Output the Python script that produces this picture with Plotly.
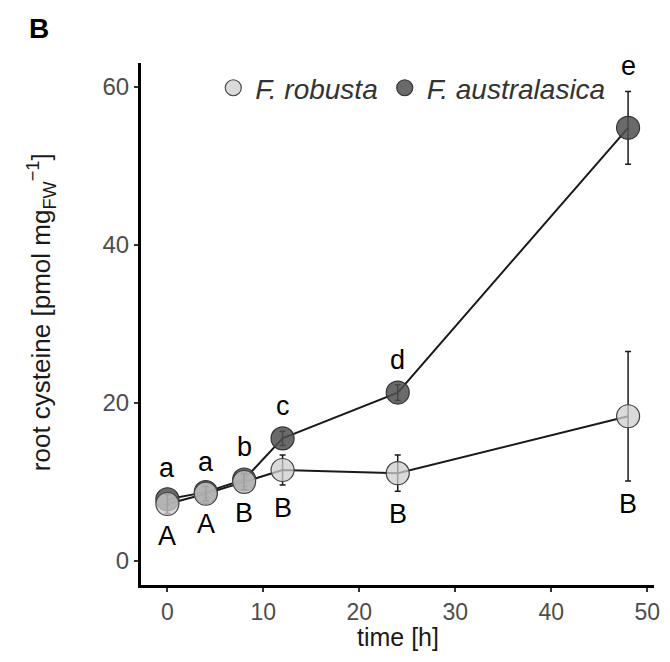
import plotly.graph_objects as go

# Sampling times (h)
time_h = [0, 4, 8, 12, 24, 48]

# Root cysteine, mean and SD (pmol mg-1 FW)
robusta_mean = [7.2, 8.5, 10.0, 11.5, 11.1, 18.3]
robusta_sd = [1.2, 0.9, 1.0, 1.9, 2.3, 8.2]
austral_mean = [7.8, 8.7, 10.3, 15.5, 21.3, 54.8]
austral_sd = [0.8, 0.7, 0.9, 0.9, 1.0, 4.6]

# Significance letters
robusta_letters = ["A", "A", "B", "B", "B", "B"]
austral_letters = ["a", "a", "b", "c", "d", "e"]

x_ticks = [0, 10, 20, 30, 40, 50]
y_ticks = [0, 20, 40, 60]

FONT = "Liberation Sans, Arial, sans-serif"

fig = go.Figure()

# connecting lines
for mean in (austral_mean, robusta_mean):
    fig.add_trace(go.Scatter(
        x=time_h, y=mean, mode="lines",
        line=dict(color="#1a1a1a", width=2),
        showlegend=False, hoverinfo="skip",
    ))

# points with error bars
fig.add_trace(go.Scatter(
    x=time_h, y=austral_mean, mode="markers",
    name="<i>F. australasica</i>",
    marker=dict(size=23, color="rgba(80,80,80,0.85)",
                line=dict(color="#333333", width=1.2)),
    error_y=dict(type="data", array=austral_sd, visible=True,
                 color="#1a1a1a", thickness=1.5, width=3),
))
fig.add_trace(go.Scatter(
    x=time_h, y=robusta_mean, mode="markers",
    name="<i>F. robusta</i>",
    marker=dict(size=23, color="rgba(205,205,205,0.75)",
                line=dict(color="#444444", width=1.2)),
    error_y=dict(type="data", array=robusta_sd, visible=True,
                 color="#1a1a1a", thickness=1.5, width=3),
))

LETTER_FONT = dict(family=FONT, size=27, color="black")
annotations = []
for t, m, s, lab in zip(time_h, austral_mean, austral_sd, austral_letters):
    annotations.append(dict(x=t, y=m + s, text=lab, showarrow=False,
                            yshift=25, yanchor="middle", font=LETTER_FONT))
for t, m, s, lab in zip(time_h, robusta_mean, robusta_sd, robusta_letters):
    annotations.append(dict(x=t, y=m - s, text=lab, showarrow=False,
                            yshift=-23, yanchor="middle", font=LETTER_FONT))

# panel tag
annotations.append(dict(
    xref="x domain", yref="y domain",
    x=-(141 - 38) / 519, y=1 + (63 - 28) / 522,
    xanchor="center", yanchor="middle", showarrow=False,
    text="<b>B</b>", font=dict(family=FONT, size=28, color="black"),
))

# axis titles
annotations.append(dict(
    xref="x domain", yref="y domain",
    x=0.5, y=-(637 - 585) / 522, xanchor="center", yanchor="middle",
    showarrow=False, text="time [h]",
    font=dict(family=FONT, size=25, color="#1a1a1a"),
))
annotations.append(dict(
    xref="x domain", yref="y domain",
    x=-(141 - 40) / 519, y=(585 - 312) / 522, xanchor="center", yanchor="middle",
    showarrow=False, textangle=-90,
    text="root cysteine [pmol mg<sub>FW</sub><sup>−1</sup>]",
    font=dict(family=FONT, size=26, color="#1a1a1a"),
))

fig.update_layout(
    width=670, height=662,
    margin=dict(l=141, r=10, t=63, b=77),
    paper_bgcolor="white", plot_bgcolor="white",
    font=dict(family=FONT, size=23, color="#4d4d4d"),
    annotations=annotations,
    legend=dict(
        orientation="h", x=0.137, y=0.952, xanchor="left", yanchor="middle",
        traceorder="reversed", bgcolor="rgba(0,0,0,0)",
        font=dict(family=FONT, size=28, color="#333333"),
        itemwidth=34,
    ),
)

fig.update_xaxes(
    range=[-2.75, 50.7], tickvals=x_ticks, ticktext=[str(v) for v in x_ticks],
    showline=True, linecolor="black", linewidth=3, mirror=False,
    ticks="outside", ticklen=4, tickwidth=1.5, tickcolor="#333333",
    showgrid=False, zeroline=False,
    tickfont=dict(family=FONT, size=23, color="#4d4d4d"),
)
fig.update_yaxes(
    range=[-3.05, 63.0], tickvals=y_ticks, ticktext=[str(v) for v in y_ticks],
    showline=True, linecolor="black", linewidth=3, mirror=False,
    ticks="outside", ticklen=4, tickwidth=1.5, tickcolor="#333333",
    showgrid=False, zeroline=False,
    tickfont=dict(family=FONT, size=24, color="#4d4d4d"),
)

fig.write_html("out.html")
